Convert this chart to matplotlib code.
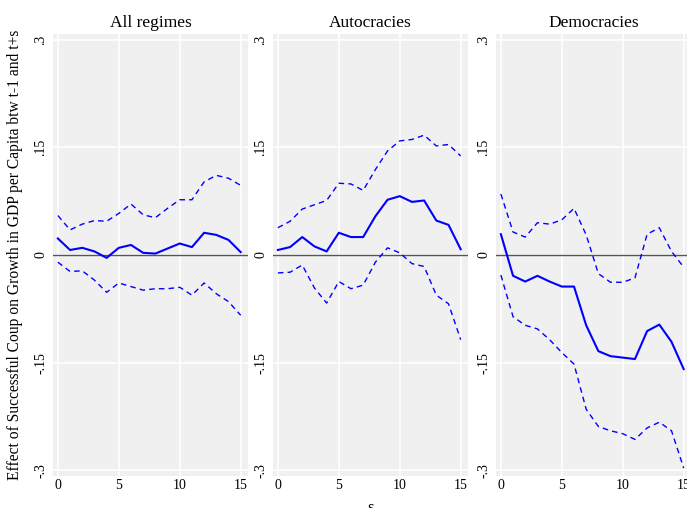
import matplotlib
matplotlib.use("Agg")
import matplotlib.pyplot as plt

s = list(range(16))
titles = ["All regimes", "Autocracies", "Democracies"]

all_est = [0.023, 0.007, 0.010, 0.005, -0.004, 0.010, 0.014, 0.003, 0.002, 0.009, 0.016, 0.011, 0.031, 0.028, 0.021, 0.004]
all_hi = [0.055, 0.035, 0.043, 0.048, 0.047, 0.058, 0.071, 0.056, 0.052, 0.065, 0.077, 0.077, 0.102, 0.111, 0.107, 0.097]
all_lo = [-0.010, -0.023, -0.022, -0.035, -0.052, -0.039, -0.044, -0.049, -0.047, -0.047, -0.045, -0.056, -0.039, -0.054, -0.065, -0.084]

aut_est = [0.007, 0.011, 0.025, 0.012, 0.005, 0.031, 0.025, 0.025, 0.054, 0.077, 0.082, 0.074, 0.076, 0.048, 0.042, 0.008]
aut_hi = [0.038, 0.047, 0.064, 0.070, 0.076, 0.100, 0.099, 0.090, 0.119, 0.145, 0.159, 0.161, 0.167, 0.152, 0.154, 0.138]
aut_lo = [-0.025, -0.024, -0.014, -0.046, -0.067, -0.037, -0.047, -0.042, -0.010, 0.010, 0.003, -0.012, -0.016, -0.056, -0.068, -0.118]

dem_est = [0.029, -0.029, -0.037, -0.029, -0.037, -0.044, -0.044, -0.098, -0.134, -0.141, -0.143, -0.145, -0.106, -0.097, -0.121, -0.159]
dem_hi = [0.085, 0.032, 0.025, 0.045, 0.043, 0.049, 0.065, 0.028, -0.026, -0.038, -0.038, -0.032, 0.029, 0.038, 0.005, -0.017]
dem_lo = [-0.028, -0.086, -0.098, -0.103, -0.118, -0.136, -0.152, -0.215, -0.239, -0.245, -0.249, -0.257, -0.241, -0.233, -0.245, -0.297]

series = [(all_est, all_hi, all_lo), (aut_est, aut_hi, aut_lo), (dem_est, dem_hi, dem_lo)]

yticks = [-0.3, -0.15, 0, 0.15, 0.3]
ytick_labels = ["-.3", "-.15", "0", ".15", ".3"]
xticks = [0, 5, 10, 15]

plt.rcParams['font.family'] = ['Liberation Serif', 'DejaVu Serif']

fig = plt.figure(figsize=(6.87, 5.08), dpi=100)
lefts = [53, 273, 496]
width = 195
bottom = 34
top = 476
for k, (left, title, (est, hi, lo)) in enumerate(zip(lefts, titles, series)):
    ax = fig.add_axes([left / 687, 1 - top / 508, width / 687, (top - bottom) / 508])
    ax.set_facecolor("#f0f0f0")
    for sp in ax.spines.values():
        sp.set_visible(False)
    ax.set_xlim(-0.4, 15.6)
    ax.set_ylim(-0.308, 0.308)
    ax.set_yticks(yticks)
    ax.set_yticklabels(ytick_labels, rotation=90, va="center", fontsize=10)
    ax.set_xticks(xticks)
    ax.set_xticklabels([str(x) for x in xticks], fontsize=10)
    ax.tick_params(length=0, pad=4)
    ax.tick_params(axis="x", pad=2)
    ax.grid(True, color="white", linewidth=1.2)
    ax.set_axisbelow(True)
    ax.axhline(0, color="#555555", linewidth=1.0, zorder=1)
    ax.plot(s, est, color="#0000ff", linewidth=1.5, zorder=3)
    ax.plot(s, hi, color="#0000ff", linewidth=1.0, linestyle=(0, (4, 3)), zorder=3)
    ax.plot(s, lo, color="#0000ff", linewidth=1.0, linestyle=(0, (4, 3)), zorder=3)
    ax.set_title(title, fontsize=12.5, pad=5)
    if k == 0:
        ax.set_ylabel("Effect of Successful Coup on Growth in GDP per Capita btw t-1 and t+s", fontsize=11.2, labelpad=8)
    if k == 1:
        ax.set_xlabel("s", fontsize=12, labelpad=6)

fig.savefig("out.png", dpi=100)
